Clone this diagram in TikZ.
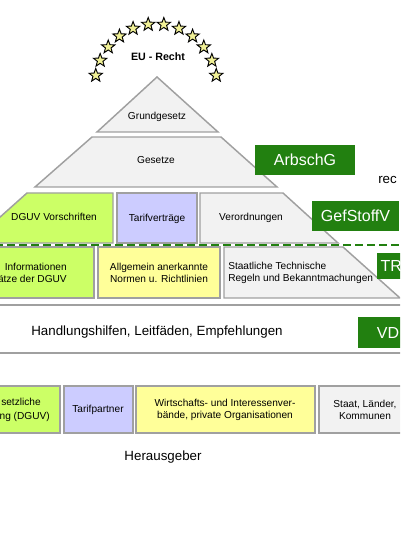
\documentclass[tikz,border=0pt]{standalone}
\usepackage{fontspec}
\setmainfont{Liberation Sans}
\usetikzlibrary{shapes.geometric}
\definecolor{leaf}{RGB}{204,255,102}
\definecolor{lilac}{RGB}{204,204,255}
\definecolor{straw}{RGB}{255,255,153}
\definecolor{ash}{RGB}{242,242,242}
\definecolor{frame}{RGB}{160,160,160}
\definecolor{forest}{RGB}{34,128,16}
\definecolor{starfill}{RGB}{240,240,150}

\begin{document}
\begin{tikzpicture}[x=0.75pt,y=-0.75pt,
    layer/.style={draw=frame,line width=1.1pt},
    lbl/.style={font=\fontsize{7.6}{9.5}\selectfont,align=center,inner sep=0pt},
    tag/.style={fill=forest,text=white,font=\fontsize{12}{14}\selectfont,inner sep=0pt}]
  \useasboundingbox (0,0) rectangle (400,534);
  \clip (0,0) rectangle (400,534);
  % EU stars
  \foreach \k in {0,...,11}
    \node[star,star points=5,star point ratio=2.4,draw,fill=starfill,line width=0.7pt,minimum size=10.5pt,inner sep=0pt]
      (star\k) at ({156+61*cos(171-14.73*\k)},{85-61*sin(171-14.73*\k)}) {};
  \node[font=\bfseries\fontsize{8}{10}\selectfont] (eu) at (158,57) {EU - Recht};
  % pyramid
  \draw[layer,fill=ash] (157,77) -- (218,132) -- (97,132) -- cycle;
  \node[lbl] (gg) at (157,117) {Grundgesetz};
  \draw[layer,fill=ash] (92,137) -- (221,137) -- (277,187) -- (35,187) -- cycle;
  \node[lbl] (gs) at (156,160) {Gesetze};
  \draw[layer,fill=leaf] (27,193) -- (113,193) -- (113,243) -- (-29,243) -- cycle;
  \draw[layer,fill=lilac] (117,193) rectangle (197,243);
  \draw[layer,fill=ash] (200,193) -- (283,193) -- (338,243) -- (200,243) -- cycle;
  \node[lbl] (dguvv) at (54,217) {DGUV Vorschriften};
  \node[lbl] (tv) at (157,219) {Tarifverträge};
  \node[lbl] (vo) at (251,218) {Verordnungen};
  \draw[forest,line width=1.5pt,dash pattern=on 6pt off 3pt] (-5,245) -- (405,245);
  \draw[layer,fill=leaf] (-40,247) rectangle (94,298);
  \draw[layer,fill=straw] (98,247) rectangle (220,298);
  \draw[layer,fill=ash] (224,247) -- (343,247) -- (400,298) -- (224,298) -- cycle;
  \node[lbl,align=right,anchor=east] (info) at (67,273) {Informationen\\ätze der DGUV};
  \node[lbl] (norm) at (159,273) {Allgemein anerkannte\\Normen u. Richtlinien};
  \node[lbl,align=left,anchor=west] (trb) at (228,273) {Staatliche Technische\\Regeln und Bekanntmachungen};
  % Handlungshilfen
  \draw[layer,fill=white] (-5,305) rectangle (405,353);
  \node[font=\fontsize{10}{12}\selectfont] (hl) at (157,332) {Handlungshilfen, Leitfäden, Empfehlungen};
  % Herausgeber
  \draw[layer,fill=leaf] (-40,386) rectangle (60,433);
  \draw[layer,fill=lilac] (64,386) rectangle (133,433);
  \draw[layer,fill=straw] (136,386) rectangle (315,433);
  \draw[layer,fill=ash] (319,386) rectangle (420,433);
  \node[lbl,anchor=west] (uv1) at (1,402) {setzliche};
  \node[lbl,anchor=east] (uv2) at (50,417) {ng (DGUV)};
  \node[lbl] (tp) at (98,410) {Tarifpartner};
  \node[lbl] (wv) at (225,410) {Wirtschafts- und Interessenver-\\bände, private Organisationen};
  \node[lbl] (st) at (365,410) {Staat, Länder,\\Kommunen};
  \node[font=\fontsize{10}{12}\selectfont] (hg) at (163,457) {Herausgeber};
  % green tags
  \node[tag,minimum width=75pt,minimum height=22.5pt] (arb) at (305,160) {ArbschG};
  \node[tag,minimum width=65pt,minimum height=22.5pt] (gef) at (355.5,216) {GefStoffV};
  \node[tag,anchor=west,minimum height=19.5pt,inner xsep=2.5pt,text width=25pt] (trt) at (377,266) {TR};
  \node[tag,anchor=west,minimum height=23pt,inner xsep=14pt,text width=20pt] (vdt) at (358,332.5) {VD};
  \node[font=\fontsize{10}{12}\selectfont,anchor=west,inner sep=0pt] (rv) at (378,180) {rec};
\end{tikzpicture}
\end{document}
